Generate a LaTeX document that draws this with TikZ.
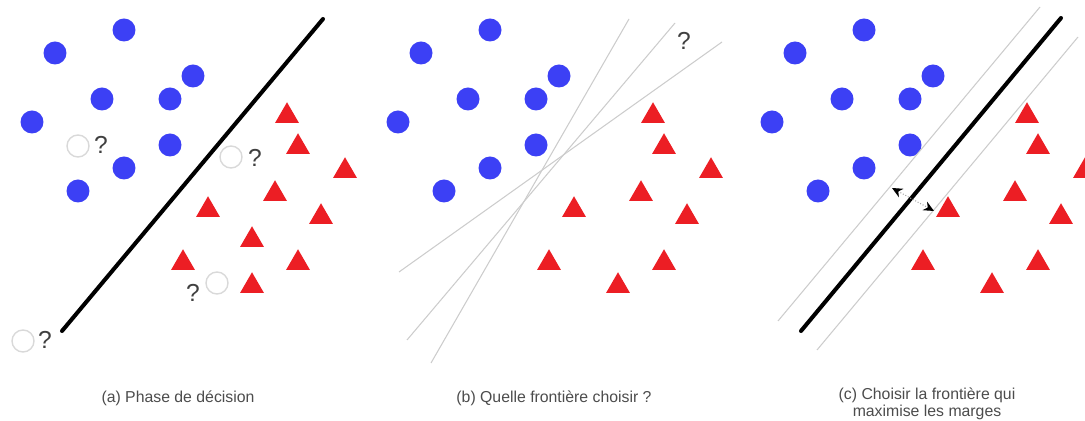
\documentclass[tikz,border=0pt]{standalone}
\usepackage{fontspec}
\setmainfont{Liberation Sans}
\usetikzlibrary{shapes.geometric, arrows.meta}

\definecolor{dotblue}{RGB}{60,64,245}
\definecolor{trired}{RGB}{236,30,36}

\begin{document}
\begin{tikzpicture}[
        x=0.02cm, y=-0.02cm,
        bluedot/.style={circle, fill=dotblue, inner sep=0pt, minimum size=0.46cm},
        redtri/.style={regular polygon, regular polygon sides=3, fill=trired, inner sep=0pt, minimum size=0.55cm},
        unknown/.style={circle, draw=black!15, line width=0.8pt, inner sep=0pt, minimum size=0.44cm},
        query/.style={font=\fontsize{14}{14}\selectfont, text=black!75, inner sep=0pt},
        subcap/.style={font=\fontsize{9}{9.6}\selectfont, text=black!70, align=center},
        frontier/.style={line width=2.3pt, black, line cap=round},
        guess/.style={line width=0.6pt, black!20},
        marginarrow/.style={{Stealth[color=black, length=6pt, width=5.5pt]}-{Stealth[color=black, length=6pt, width=5.5pt]}, densely dotted, black!35, line width=0.6pt}
    ]
    \useasboundingbox (0,0) rectangle (1085,421);

    % the same points in the three panels
    \foreach \dx/\p in {0/a, 366/b, 740/c} {
        \foreach \x/\y [count=\i] in {124/30, 55/53, 193/76, 102/99, 170/99, 32/122, 170/145, 124/168, 78/191}
            \node [bluedot] (\p-dot\i) at (\x+\dx, \y) {};
        \foreach \x/\y [count=\i] in {287/116, 298/147, 345/171, 275/194, 208/210, 321/217, 183/263, 298/263, 252/286}
            \node [redtri] (\p-tri\i) at (\x+\dx, \y) {};
    }
    \node [redtri] (a-tri10) at (252,240) {};

    % (a) decision
    \coordinate (a-low) at (62,331);
    \coordinate (a-high) at (323,19);
    \draw [frontier] (a-low) -- (a-high);

    \node [unknown] (u1) at (78,146) {};
    \node [query] (q1) at (101,145) {?};
    \node [unknown] (u2) at (231,157) {};
    \node [query] (q2) at (255,158) {?};
    \node [unknown] (u3) at (217,283) {};
    \node [query] (q3) at (193,293) {?};
    \node [unknown] (u4) at (23,341) {};
    \node [query] (q4) at (45,340) {?};

    % (b) candidate frontiers
    \coordinate (b-low1) at (431,363);
    \coordinate (b-high1) at (629,19);
    \coordinate (b-low2) at (407,340);
    \coordinate (b-high2) at (675,23);
    \coordinate (b-low3) at (399,272);
    \coordinate (b-high3) at (722,42);
    \draw [guess] (b-low1) -- (b-high1);
    \draw [guess] (b-low2) -- (b-high2);
    \draw [guess] (b-low3) -- (b-high3);
    \node [query] (q5) at (684,41) {?};

    % (c) widest margin
    \coordinate (c-low) at (801,331);
    \coordinate (c-high) at (1061,18);
    \coordinate (c-upper-low) at (778,321);
    \coordinate (c-upper-high) at (1040,7);
    \coordinate (c-lower-low) at (817,350);
    \coordinate (c-lower-high) at (1078,37);
    \draw [guess] (c-upper-low) -- (c-upper-high);
    \draw [guess] (c-lower-low) -- (c-lower-high);
    \draw [frontier] (c-low) -- (c-high);
    \coordinate (m-start) at (892,188);
    \coordinate (m-end) at (934,211);
    \draw [marginarrow] (m-start) -- (m-end);

    \node [subcap] (cap-a) at (178,398) {(a) Phase de décision};
    \node [subcap] (cap-b) at (554,398) {(b) Quelle frontière choisir ?};
    \node [subcap, anchor=north, inner sep=1pt] (cap-c) at (927,386) {(c) Choisir la frontière qui\\maximise les marges};

\end{tikzpicture}
\end{document}
